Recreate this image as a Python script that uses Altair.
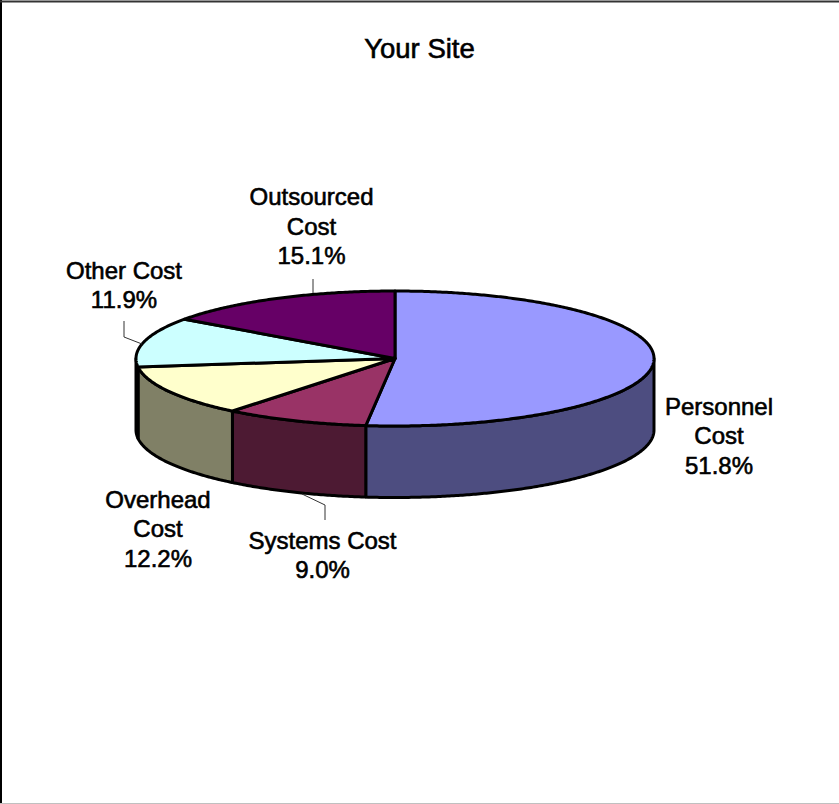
import math
import altair as alt

# Cost shares, clockwise from twelve o'clock
categories = ["Personnel Cost", "Systems Cost", "Overhead Cost", "Other Cost", "Outsourced Cost"]
label_lines = [["Personnel", "Cost"], ["Systems Cost"], ["Overhead", "Cost"], ["Other Cost"], ["Outsourced", "Cost"]]
shares = [51.8, 9.0, 12.2, 11.9, 15.1]
top_colors = ["#9999FF", "#993366", "#FFFFCC", "#CCFFFF", "#660066"]
side_colors = ["#4D4D80", "#4D1A33", "#808066", "#668080", "#330033"]
chart_title = "Your Site"

# Layout of the drawing, in canvas pixels
W, H = 839, 804
CX, CY, RX, RY, DEPTH = 395, 358.5, 259, 67.5, 71.5
FONT = "Liberation Sans"
FONT_SIZE = 24
TITLE_SIZE = 27.5
LINE_GAP = 29.5
title_center = (419.5, 50)
label_centers = [(719, 407.5), (322.5, 541.5), (158, 500.5), (124, 271.5), (311.5, 198)]
leaders = [
    [(313, 279), (313, 293)],
    [(124, 321), (124, 337), (142, 344)],
    [(325, 520), (325, 505), (302, 494)],
]


def rim(angle_deg, drop=0.0):
    a = math.radians(angle_deg)
    return [CX + RX * math.sin(a), CY - RY * math.cos(a) + drop]


def arc(start, end, drop=0.0):
    steps = max(2, int(abs(end - start) * 2))
    return [rim(start + (end - start) * i / steps, drop) for i in range(steps + 1)]


def feature(kind, coords, **props):
    return {"type": "Feature", "properties": props, "geometry": {"type": kind, "coordinates": coords}}


# Angular extent of every slice
bounds = []
running = 0.0
total = sum(shares)
for share in shares:
    start = running / total * 360
    running += share
    bounds.append((start, running / total * 360))

side_features, top_features = [], []
for (start, end), top, side in zip(bounds, top_colors, side_colors):
    # only the front half of the rim shows a wall
    lo, hi = max(start, 90), min(end, 270)
    if lo < hi:
        ring = arc(lo, hi) + arc(hi, lo, DEPTH)
        side_features.append(feature("Polygon", [ring + [ring[0]]], fill=side))
    ring = [[CX, CY]] + arc(start, end) + [[CX, CY]]
    top_features.append(feature("Polygon", [ring], fill=top))

leader_features = [feature("LineString", [list(p) for p in pts]) for pts in leaders]
frame_features = [
    feature("LineString", [[1, 0], [1, H]], color="#000000", width=2),
    feature("LineString", [[0, 1.5], [W, 1.5]], color="#333333", width=2),
    feature("LineString", [[0, H - 0.5], [W, H - 0.5]], color="#C0C0C0", width=1),
]

text_rows = []
for lines, share, (x, y) in zip(label_lines, shares, label_centers):
    for i, line in enumerate(lines + [f"{share:.1f}%"]):
        text_rows.append({"x": x, "y": y + i * LINE_GAP, "text": line})

pixel_projection = dict(type="identity", scale=1, translate=[0, 0])


def shapes(features):
    return alt.Chart(alt.Data(values=features)).project(**pixel_projection)


def text_layer(rows, size):
    return alt.Chart(alt.Data(values=rows)).project(**pixel_projection).mark_text(
        font=FONT, fontSize=size, color="#000000", stroke="#000000", strokeWidth=0.6,
        align="center", baseline="middle",
    ).encode(longitude="x:Q", latitude="y:Q", text="text:N")


frame = shapes(frame_features).mark_geoshape(filled=False).encode(
    stroke=alt.Color("properties.color:N", scale=None),
    strokeWidth=alt.StrokeWidth("properties.width:Q", scale=None),
)
walls = shapes(side_features).mark_geoshape(stroke="#000000", strokeWidth=3, strokeJoin="round").encode(
    fill=alt.Color("properties.fill:N", scale=None)
)
tops = shapes(top_features).mark_geoshape(stroke="#000000", strokeWidth=3, strokeJoin="round").encode(
    fill=alt.Color("properties.fill:N", scale=None)
)
leader_lines = shapes(leader_features).mark_geoshape(filled=False, stroke="#333333", strokeWidth=1)
labels = text_layer(text_rows, FONT_SIZE)
heading = text_layer([{"x": title_center[0], "y": title_center[1], "text": chart_title}], TITLE_SIZE)

chart = alt.layer(frame, walls, tops, leader_lines, labels, heading).properties(
    width=W,
    height=H,
    padding=0,
    autosize=alt.AutoSizeParams(type="none"),
).configure_view(stroke=None).configure(background="#FFFFFF")

chart.save("out.html", embed_options={"renderer": "svg", "actions": False})
